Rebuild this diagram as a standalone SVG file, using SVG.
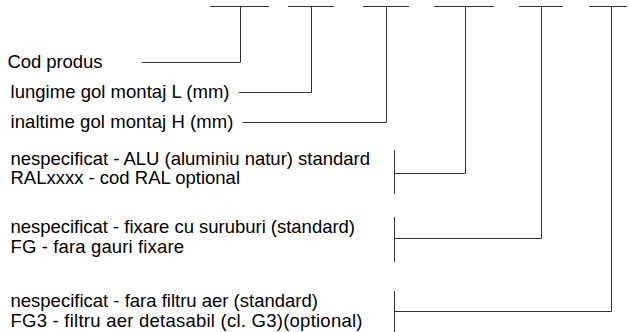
<svg xmlns="http://www.w3.org/2000/svg" width="629" height="332" viewBox="0 0 629 332">
<style>
  .bg{fill:#ffffff}
  .lbl{font-family:"Liberation Sans",Arial,sans-serif;font-size:18.5px;fill:#000000}
  .ln{fill:none;stroke:#333333;stroke-width:1}
</style>
<rect class="bg" x="0" y="0" width="629" height="332"/>
<g id="connectors">
  <path class="ln" d="M210 6.5H269 M288 6.5H334 M363 6.5H409 M434 6.5H494 M519 6.5H563 M589 6.5H627"/>
  <path class="ln" d="M240.5 6.5V62.5H142"/>
  <path class="ln" d="M311.5 6.5V92.5H239"/>
  <path class="ln" d="M386.5 6.5V122.5H242.5"/>
  <path class="ln" d="M465.5 6.5V173.5H394.5"/>
  <path class="ln" d="M394.5 150V194"/>
  <path class="ln" d="M541.5 6.5V238.5H394.5"/>
  <path class="ln" d="M394.5 217V262"/>
  <path class="ln" d="M611.5 6.5V311.5H394.5"/>
  <path class="ln" d="M394.5 291V332"/>
</g>
<g id="node-cod">
  <text class="lbl" x="7.5" y="68.3" textLength="95">Cod produs</text>
</g>
<g id="node-lungime">
  <text class="lbl" x="10.5" y="98.3" textLength="219">lungime gol montaj L (mm)</text>
</g>
<g id="node-inaltime">
  <text class="lbl" x="10.5" y="127.6" textLength="223">inaltime gol montaj H (mm)</text>
</g>
<g id="node-culoare">
  <text class="lbl" x="10.5" y="165.3" textLength="359.5">nespecificat - ALU (aluminiu natur) standard</text>
  <text class="lbl" x="10.5" y="184.3" textLength="229.5">RALxxxx - cod RAL optional</text>
</g>
<g id="node-fixare">
  <text class="lbl" x="10.5" y="233.3" textLength="344.5">nespecificat - fixare cu suruburi (standard)</text>
  <text class="lbl" x="10.5" y="252.7" textLength="173.5">FG - fara gauri fixare</text>
</g>
<g id="node-filtru">
  <text class="lbl" x="10.5" y="307.3">nespecificat - fara filtru aer (standard)</text>
  <text class="lbl" x="10.5" y="326.7" textLength="352">FG3 - filtru aer detasabil (cl. G3)(optional)</text>
</g>
</svg>
